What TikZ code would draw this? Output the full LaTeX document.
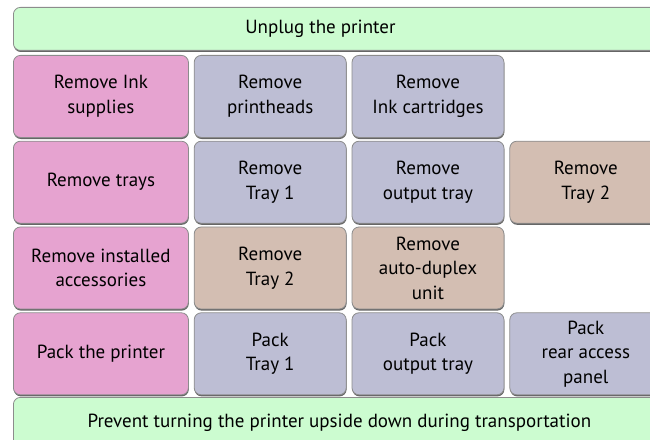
\documentclass[tikz,border=0pt]{standalone}
\usepackage{fontspec}
\setmainfont{PT Sans}
\usetikzlibrary{matrix,shadows}
\definecolor{stagepink}{RGB}{230,163,208}
\definecolor{partblue}{RGB}{189,190,212}
\definecolor{traytan}{RGB}{211,190,178}
\definecolor{bargreen}{RGB}{204,252,208}
\tikzset{
  stepbox/.style={draw=black!45, line width=0.8pt, rounded corners=7pt, minimum height=82pt, align=center, inner sep=2pt, font=\fontsize{19}{24.5}\selectfont, drop shadow={shadow xshift=0.4pt, shadow yshift=-1.6pt, fill=black!60, opacity=1}},
  mainbox/.style={stepbox, fill=stagepink, minimum width=175pt},
  partbox/.style={stepbox, fill=partblue, minimum width=152pt},
  traybox/.style={stepbox, fill=traytan, minimum width=152pt},
  barbox/.style={stepbox, fill=bargreen, minimum width=652pt, anchor=north west}
}

\begin{document}
\begin{tikzpicture}[x=1pt, y=1pt]
  \path[use as bounding box, clip] (0,0) rectangle (650,439);
  \node[barbox, minimum height=43pt] (unplug) at (13,432) {\hspace*{-38pt}Unplug the printer};
  \matrix (grid) [row sep=3pt, column sep=5pt, inner sep=0pt, outer sep=0pt, anchor=north west] at (13,384) {
    \node[mainbox] (inksup) {Remove Ink\\supplies}; &
    \node[partbox] (heads) {Remove\\printheads}; &
    \node[partbox] (carts) {Remove\\Ink cartridges}; & \\
    \node[mainbox] (trays) {Remove trays}; &
    \node[partbox] (trayone) {Remove\\Tray 1}; &
    \node[partbox] (outtray) {Remove\\output tray}; &
    \node[traybox] (traytwo) {Remove\\Tray 2}; \\
    \node[mainbox] (accs) {Remove installed\\accessories}; &
    \node[traybox] (acctray) {Remove\\Tray 2}; &
    \node[traybox] (duplex) {Remove\\auto-duplex\\unit}; & \\
    \node[mainbox] (pack) {Pack the printer}; &
    \node[partbox] (packone) {Pack\\Tray 1}; &
    \node[partbox] (packout) {Pack\\output tray}; &
    \node[partbox] (packrear) {Pack\\rear access\\panel}; \\
  };
  \node[barbox, minimum height=50pt] (upright) at (13,42) {Prevent turning the printer upside down during transportation};
\end{tikzpicture}
\end{document}
